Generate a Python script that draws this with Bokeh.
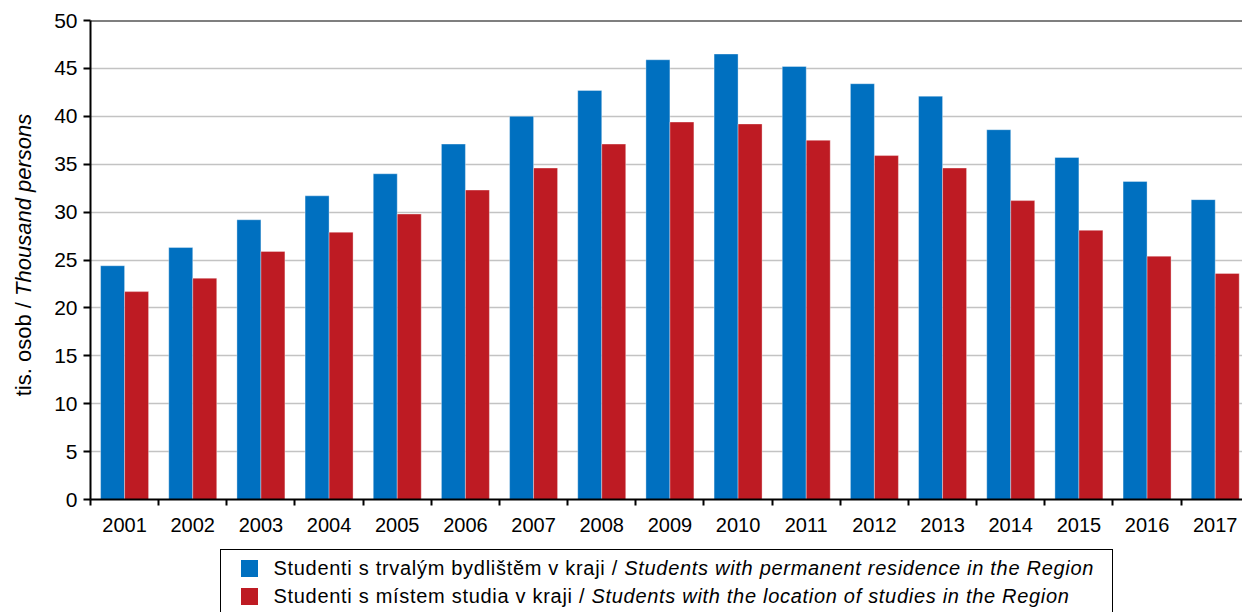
from bokeh.plotting import figure
from bokeh.models import (ColumnDataSource, FixedTicker, LinearAxis, Range1d,
                          Div, Grid, Span)
from bokeh.layouts import column, row
from bokeh.transform import dodge
from bokeh.embed import file_html
from bokeh.resources import INLINE

# ---- data ----
years = [2001, 2002, 2003, 2004, 2005, 2006, 2007, 2008, 2009,
         2010, 2011, 2012, 2013, 2014, 2015, 2016, 2017]
permanent_residence = [24.4, 26.3, 29.2, 31.7, 34.0, 37.1, 40.0, 42.7, 45.9,
                       46.5, 45.2, 43.4, 42.1, 38.6, 35.7, 33.2, 31.3]
location_of_studies = [21.7, 23.1, 25.9, 27.9, 29.8, 32.3, 34.6, 37.1, 39.4,
                       39.2, 37.5, 35.9, 34.6, 31.2, 28.1, 25.4, 23.6]
y_ticks = list(range(0, 51, 5))

label_cz_1 = "Studenti s trvalým bydlištěm v kraji / "
label_en_1 = "Students with permanent residence in the Region"
label_cz_2 = "Studenti s místem studia v kraji / "
label_en_2 = "Students with the location of studies in the Region"
ylabel_cz = "tis. osob / "
ylabel_en = "Thousand persons"

BLUE = "#0070C0"
RED = "#BE1B23"
FONT = "Liberation Sans"

xpos = [i + 0.5 for i in range(len(years))]
src = ColumnDataSource(dict(x=xpos, year=[str(y) for y in years],
                            perm=permanent_residence, study=location_of_studies))

LW = 48            # width of the y-title strip
W, H = 1242 - LW, 549
p = figure(width=W, height=H, output_backend="svg", toolbar_location=None,
           x_range=Range1d(0, 16.9), y_range=Range1d(0, 50),
           x_axis_type=None, y_axis_type=None,
           min_border_left=90 - LW, min_border_right=0, min_border_top=20,
           min_border_bottom=50)
p.outline_line_color = None
p.background_fill_color = "white"
p.border_fill_color = "white"

yticker = FixedTicker(ticks=y_ticks)
p.add_layout(Grid(dimension=1, ticker=yticker, grid_line_color="#c3c3c3",
                  grid_line_width=1.5), "center")

bw = 0.352
p.vbar(x=dodge("x", -bw / 2, range=p.x_range), top="perm", width=bw, source=src,
       fill_color=BLUE, line_color="white", line_alpha=0.35, line_width=1)
p.vbar(x=dodge("x", bw / 2, range=p.x_range), top="study", width=bw, source=src,
       fill_color=RED, line_color="white", line_alpha=0.35, line_width=1)

p.add_layout(Span(location=50, dimension="width", line_color="black", line_width=2))

yaxis = LinearAxis(ticker=yticker, major_tick_out=7, major_tick_in=0,
                   minor_tick_out=0, minor_tick_in=0,
                   axis_line_width=2, axis_line_color="black",
                   major_tick_line_width=2, major_tick_line_color="black",
                   major_label_text_font=FONT, major_label_text_font_size="21px",
                   major_label_text_color="black", major_label_standoff=6)
p.add_layout(yaxis, "left")

xaxis = LinearAxis(ticker=FixedTicker(ticks=xpos, minor_ticks=list(range(len(years) + 1))),
                   major_tick_out=0, major_tick_in=0,
                   minor_tick_out=6, minor_tick_in=0,
                   minor_tick_line_color="black", minor_tick_line_width=2,
                   axis_line_width=2, axis_line_color="black",
                   major_label_overrides={xv: str(yv) for xv, yv in zip(xpos, years)},
                   major_label_text_font=FONT, major_label_text_font_size="20px",
                   major_label_text_color="black", major_label_standoff=12)
p.add_layout(xaxis, "below")

ylabel_html = f"""
<div style="position:relative;width:{LW}px;height:{H}px;">
  <div style="position:absolute;left:24px;top:255px;transform:translate(-50%,-50%) rotate(-90deg);
  white-space:nowrap;font-family:'{FONT}';font-size:22px;color:#000;">{ylabel_cz}<i>{ylabel_en}</i></div>
</div>
"""
ylabel = Div(text=ylabel_html, width=LW, height=H, margin=(0, 0, 0, 0))

legend_html = f"""
<div style="position:relative;width:893px;height:90px;box-sizing:border-box;
border:1.5px solid #000;background:#fff;font-family:'{FONT}';font-size:20px;
letter-spacing:0.7px;color:#000;">
  <div style="position:absolute;left:19.5px;top:9.5px;width:17px;height:17px;background:{BLUE};"></div>
  <div style="position:absolute;left:52.5px;top:4px;line-height:28px;white-space:nowrap;">{label_cz_1}<i>{label_en_1}</i></div>
  <div style="position:absolute;left:19.5px;top:37.5px;width:17px;height:17px;background:{RED};"></div>
  <div style="position:absolute;left:52.5px;top:32px;line-height:28px;white-space:nowrap;">{label_cz_2}<i>{label_en_2}</i></div>
</div>
"""
legend = Div(text=legend_html, width=893, height=90, margin=(0, 0, 0, 220 - LW))

layout = row(ylabel, column(p, legend, spacing=0), spacing=0)
open("out.html", "w").write(file_html(layout, INLINE))
